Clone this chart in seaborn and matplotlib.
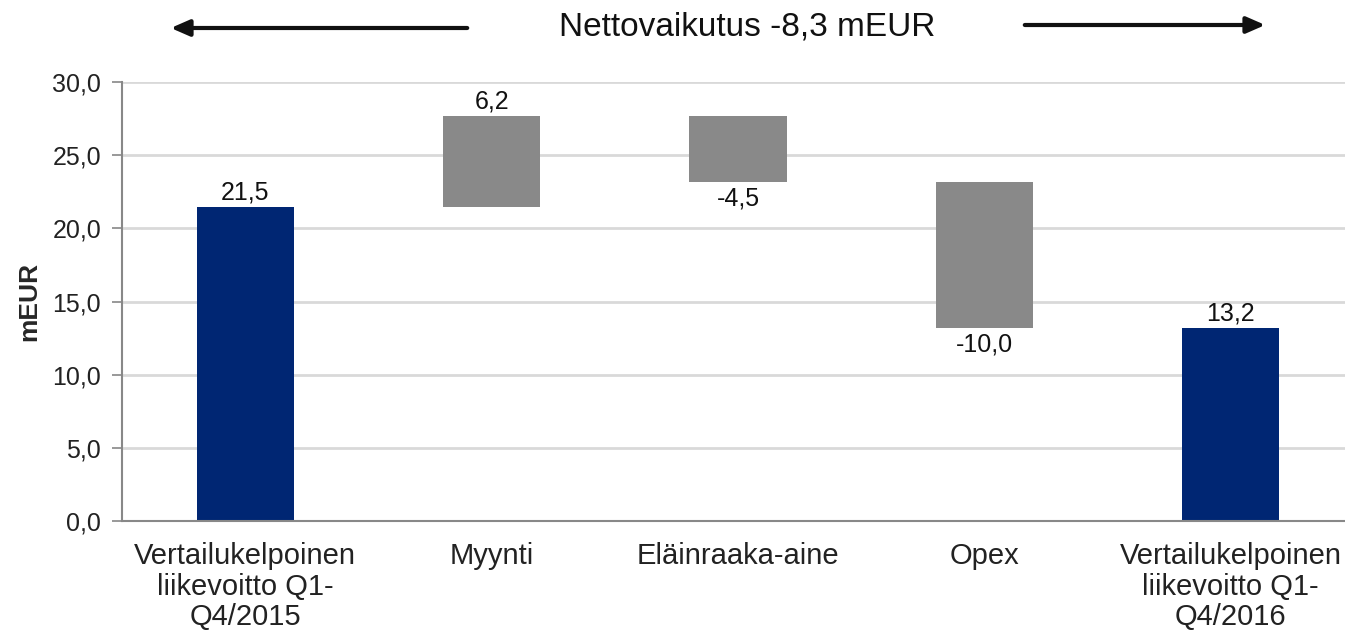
import matplotlib
matplotlib.use("Agg")
import matplotlib.pyplot as plt
import seaborn as sns
import numpy as np

categories = ["Vertailukelpoinen\nliikevoitto Q1-\nQ4/2015", "Myynti", "Eläinraaka-aine", "Opex",
              "Vertailukelpoinen\nliikevoitto Q1-\nQ4/2016"]
values = [21.5, 6.2, -4.5, -10.0, 13.2]
kinds = ["total", "delta", "delta", "delta", "total"]
y_ticks = [0, 5, 10, 15, 20, 25, 30]
title_text = "Nettovaikutus -8,3 mEUR"
y_label = "mEUR"

navy = "#002673"
grey = "#898989"

# waterfall geometry derived from values
lows, spans, colors = [], [], []
running = 0.0
for v, k in zip(values, kinds):
    if k == "total":
        lows.append(0.0)
        spans.append(v)
        running = v
        colors.append(navy)
    else:
        lows.append(min(running, running + v))
        spans.append(abs(v))
        running += v
        colors.append(grey)

sns.set_theme(style="white")
plt.rcParams["font.family"] = ["Liberation Sans", "DejaVu Sans"]

fig = plt.figure(figsize=(13.45, 6.34), dpi=100)
ax = fig.add_axes([0.0907, 0.178, 1.0067 - 0.0907, 0.6924])

for cat, lo, sp, col in zip(categories, lows, spans, colors):
    sns.barplot(x=[cat], y=[sp], bottom=lo, order=categories, color=col, saturation=1,
                width=0.395, linewidth=0, ax=ax)

ax.set_xlim(-0.5, len(categories) - 0.5)
ax.set_ylim(0, 30)
ax.set_yticks(y_ticks)
ax.set_yticklabels([f"{t:.1f}".replace(".", ",") for t in y_ticks], fontsize=18, color="#222222")
ax.set_xticks(range(len(categories)))
ax.set_xticklabels(categories, fontsize=21, color="#222222", linespacing=1.12)
ax.set_xticks(np.arange(-0.5, len(categories), 1.0), minor=True)
ax.tick_params(axis="x", which="major", length=0, pad=15)
ax.tick_params(axis="x", which="minor", length=8, width=1.2, color="#888888", direction="out")
ax.tick_params(axis="y", length=7, width=1.2, color="#888888", direction="out", left=True, pad=8)
ax.yaxis.grid(True, color="#d9d9d9", linewidth=2)
ax.set_axisbelow(True)
for s in ["top", "right"]:
    ax.spines[s].set_visible(False)
for s in ["left", "bottom"]:
    ax.spines[s].set_color("#888888")
    ax.spines[s].set_linewidth(1.5)
ax.set_ylabel(y_label, fontsize=19, fontweight="bold", labelpad=8)
ax.set_xlabel("")

# data labels
for i, (lo, sp, v) in enumerate(zip(lows, spans, values)):
    lab = f"{v:.1f}".replace(".", ",")
    if v >= 0:
        ax.text(i, lo + sp + 0.15, lab, ha="center", va="bottom", fontsize=18, color="#111111")
    else:
        ax.text(i, lo - 0.3, lab, ha="center", va="top", fontsize=18, color="#111111")

# header with arrows
fig.text(747 / 1345, 1 - 27 / 634, title_text, ha="center", va="center", fontsize=24, color="#111111")
arrow_kw = dict(arrowstyle="-|>,head_length=0.8,head_width=0.35", color="#111111", lw=3)
fig.add_artist(matplotlib.patches.FancyArrowPatch((470 / 1345, 1 - 28 / 634), (168 / 1345, 1 - 28 / 634),
                                                  transform=fig.transFigure, mutation_scale=14, **arrow_kw))
fig.add_artist(matplotlib.patches.FancyArrowPatch((1022 / 1345, 1 - 25 / 634), (1268 / 1345, 1 - 25 / 634),
                                                  transform=fig.transFigure, mutation_scale=14, **arrow_kw))

fig.savefig("out.png", dpi=100)
